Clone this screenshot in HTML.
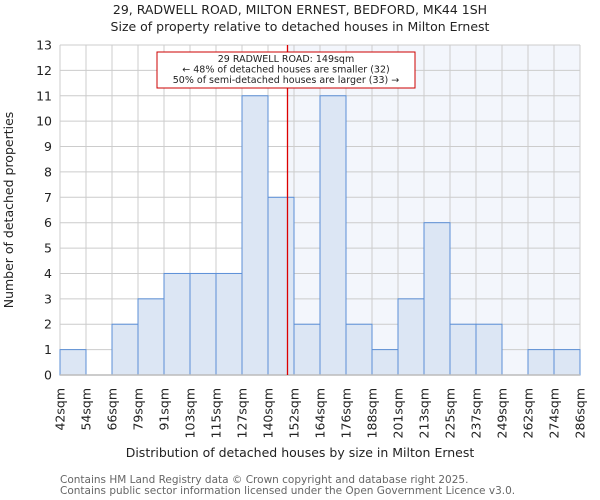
<!DOCTYPE html>
<html><head><meta charset="utf-8"><style>body{margin:0;background:#fff}svg{display:block;font-family:"DejaVu Sans","Liberation Sans",sans-serif}</style></head>
<body>
<svg id="c" width="600" height="500">
<text x="300" y="14" text-anchor="middle" font-size="12.5" fill="#222">29, RADWELL ROAD, MILTON ERNEST, BEDFORD, MK44 1SH</text>
<text x="300" y="31" text-anchor="middle" font-size="12.5" fill="#222">Size of property relative to detached houses in Milton Ernest</text>
<text x="300" y="457" text-anchor="middle" font-size="12.5" fill="#222">Distribution of detached houses by size in Milton Ernest</text>
<text transform="translate(13,210) rotate(-90)" text-anchor="middle" font-size="12.5" fill="#222">Number of detached properties</text>
<text x="60" y="483" font-size="10.5" fill="#666">Contains HM Land Registry data © Crown copyright and database right 2025.</text>
<text x="60" y="494" font-size="10.5" fill="#666">Contains public sector information licensed under the Open Government Licence v3.0.</text>
</svg>
<script>
const labels=["42sqm","54sqm","66sqm","79sqm","91sqm","103sqm","115sqm","127sqm","140sqm","152sqm","164sqm","176sqm","188sqm","201sqm","213sqm","225sqm","237sqm","249sqm","262sqm","274sqm","286sqm"];
const counts=[1,0,2,3,4,4,4,11,7,2,11,2,1,3,6,2,2,0,1,1];
const yTicks=[0,1,2,3,4,5,6,7,8,9,10,11,12,13];
const subjectBin=8.75;
const NS="http://www.w3.org/2000/svg";
const svg=document.getElementById('c');
const L=60,R=580,T=45,B=375,yMax=13;
const xs=i=>L+(R-L)*i/counts.length;
const ys=v=>B-(B-T)*v/yMax;
function mk(tag,a,parent){const e=document.createElementNS(NS,tag);for(const k in a)e.setAttribute(k,a[k]);(parent||svg).appendChild(e);return e;}
const sx=xs(subjectBin);
let e=mk('rect',{x:sx,y:T,width:R-sx,height:B-T,fill:'#f3f6fc'});


yTicks.forEach(v=>{
 let g=mk('line',{x1:L,x2:R,y1:ys(v),y2:ys(v),stroke:'#ccc','stroke-width':1});
 
 
 let t=mk('text',{x:L-8,y:ys(v)+4.5,'text-anchor':'end','font-size':12.5,fill:'#222'});
 t.textContent=v;
 
 
});
labels.forEach((l,i)=>{
 let g=mk('line',{x1:xs(i),x2:xs(i),y1:T,y2:B,stroke:'#ccc','stroke-width':1});
 
 
 let t=mk('text',{transform:`translate(${xs(i)+4.5},388) rotate(-90)`,'text-anchor':'end','font-size':12.5,fill:'#222'});
 t.textContent=l;
 
 
});
counts.forEach((c,i)=>{
 if(!c)return;
 let r=mk('rect',{x:xs(i),y:ys(c),width:xs(i+1)-xs(i),height:B-ys(c),fill:'#dce6f4',stroke:'#5b8fd6','stroke-width':1});
 
 
});
e=mk('line',{x1:L,x2:R,y1:B,y2:B,stroke:'#bbb','stroke-width':1.5});


e=mk('line',{x1:sx,x2:sx,y1:T,y2:B,stroke:'#dd0000','stroke-width':1.3});


e=mk('rect',{x:157,y:52,width:258,height:36,fill:'#fff',stroke:'#cc0000','stroke-width':1});


["29 RADWELL ROAD: 149sqm","← 48% of detached houses are smaller (32)","50% of semi-detached houses are larger (33) →"].forEach((s,i)=>{
 let t=mk('text',{x:286,y:62+i*10.5,'text-anchor':'middle','font-size':9.5,fill:'#222'});
 t.textContent=s;
 
 
});
</script>
</body></html>
